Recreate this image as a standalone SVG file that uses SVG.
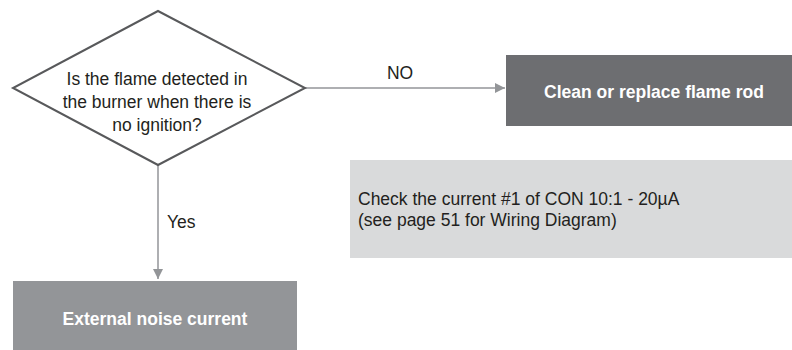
<svg xmlns="http://www.w3.org/2000/svg" width="792" height="350" viewBox="0 0 792 350">
<style>
text{font-family:"Liberation Sans",Arial,sans-serif;}
.lbl{font-size:17.5px;fill:#231f20;}
.btxt{font-size:17.5px;font-weight:bold;fill:#ffffff;text-anchor:middle;}
.conn{stroke:#939598;stroke-width:1.5;fill:none;}
</style>
<defs>
<marker id="arr" viewBox="0 0 10 10" refX="10" refY="5" markerWidth="10" markerHeight="10" markerUnits="userSpaceOnUse" orient="auto">
<path d="M0,0 L10,5 L0,10 Z" fill="#939598"/>
</marker>
</defs>
<g id="connectors">
<line class="conn" x1="305" y1="88" x2="505" y2="88" marker-end="url(#arr)"/>
<line class="conn" x1="158" y1="165" x2="158" y2="279" marker-end="url(#arr)"/>
<text class="lbl" x="400" y="79" text-anchor="middle">NO</text>
<text class="lbl" x="167" y="228">Yes</text>
</g>
<g id="decision">
<polygon points="158,11 305,88 158,165 13,88" fill="#ffffff" stroke="#58595b" stroke-width="2"/>
<text class="lbl" x="157" y="85" text-anchor="middle">Is the flame detected in</text>
<text class="lbl" x="157" y="108" text-anchor="middle">the burner when there is</text>
<text class="lbl" x="157" y="131" text-anchor="middle">no ignition?</text>
</g>
<g id="clean">
<rect x="506" y="55" width="286" height="71" fill="#6d6e71"/>
<text class="btxt" x="654" y="98">Clean or replace flame rod</text>
</g>
<g id="check">
<rect x="350" y="160" width="442" height="98" fill="#d9dadb"/>
<text class="lbl" x="358" y="205">Check the current #1 of CON 10:1 - 20µA</text>
<text class="lbl" x="358" y="226">(see page 51 for Wiring Diagram)</text>
</g>
<g id="external">
<rect x="13" y="281" width="284" height="69" fill="#939598"/>
<text class="btxt" x="155" y="325">External noise current</text>
</g>
</svg>
